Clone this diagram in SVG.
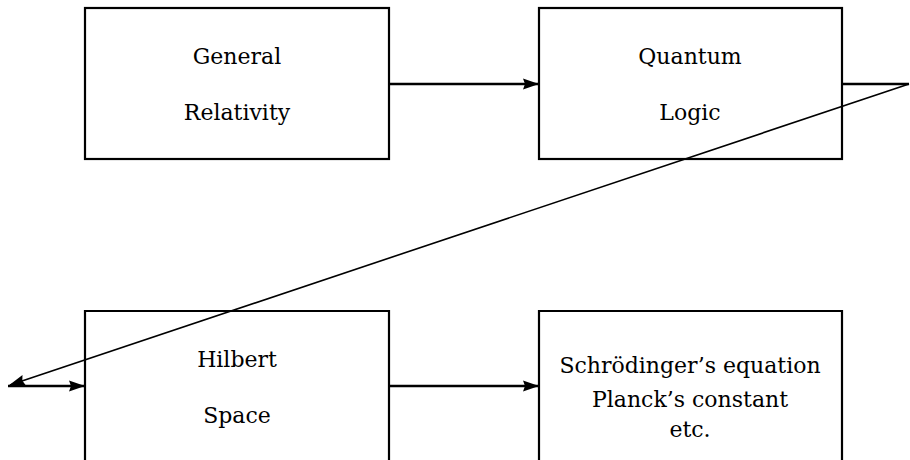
<svg xmlns="http://www.w3.org/2000/svg" width="910" height="460" viewBox="0 0 910 460">
<style>
.box{fill:#fff;stroke:#000;stroke-width:2.2}
text{font-family:'DejaVu Serif','Liberation Serif',serif;font-size:22px;fill:#000;text-anchor:middle}
.c{stroke:#000;stroke-width:2.4;fill:none}
.d{stroke:#000;stroke-width:1.6;fill:none}
</style>
<defs>
<marker id="ah" markerWidth="16" markerHeight="12" refX="15" refY="6" orient="auto" markerUnits="userSpaceOnUse">
<path d="M0,0.5 L16,6 L0,11.5 L2,6 Z" fill="#000"/>
</marker>
</defs>
<rect width="910" height="460" fill="#fff"/>
<g id="n1"><rect class="box" x="85" y="8" width="304" height="151"/><text x="237" y="64">General</text><text x="237" y="120">Relativity</text></g>
<g id="n2"><rect class="box" x="539" y="8" width="303" height="151"/><text x="690" y="64">Quantum</text><text x="690" y="120">Logic</text></g>
<g id="n3"><path class="box" d="M85,462 V311 H389 V462"/><text x="237" y="367">Hilbert</text><text x="237" y="423">Space</text></g>
<g id="n4"><path class="box" d="M539,462 V311 H842 V462"/><text x="690" y="373">Schrödinger’s equation</text><text x="690" y="407">Planck’s constant</text><text x="690" y="437">etc.</text></g>
<g id="connectors">
<line class="c" x1="389" y1="84" x2="538" y2="84" marker-end="url(#ah)"/>
<line class="c" x1="389" y1="386" x2="538" y2="386" marker-end="url(#ah)"/>
<line class="c" x1="842" y1="84" x2="909" y2="84"/>
<line class="d" x1="909" y1="84" x2="10" y2="385" marker-end="url(#ah)"/>
<line class="c" x1="8" y1="386" x2="84" y2="386" marker-end="url(#ah)"/>
</g>
</svg>
